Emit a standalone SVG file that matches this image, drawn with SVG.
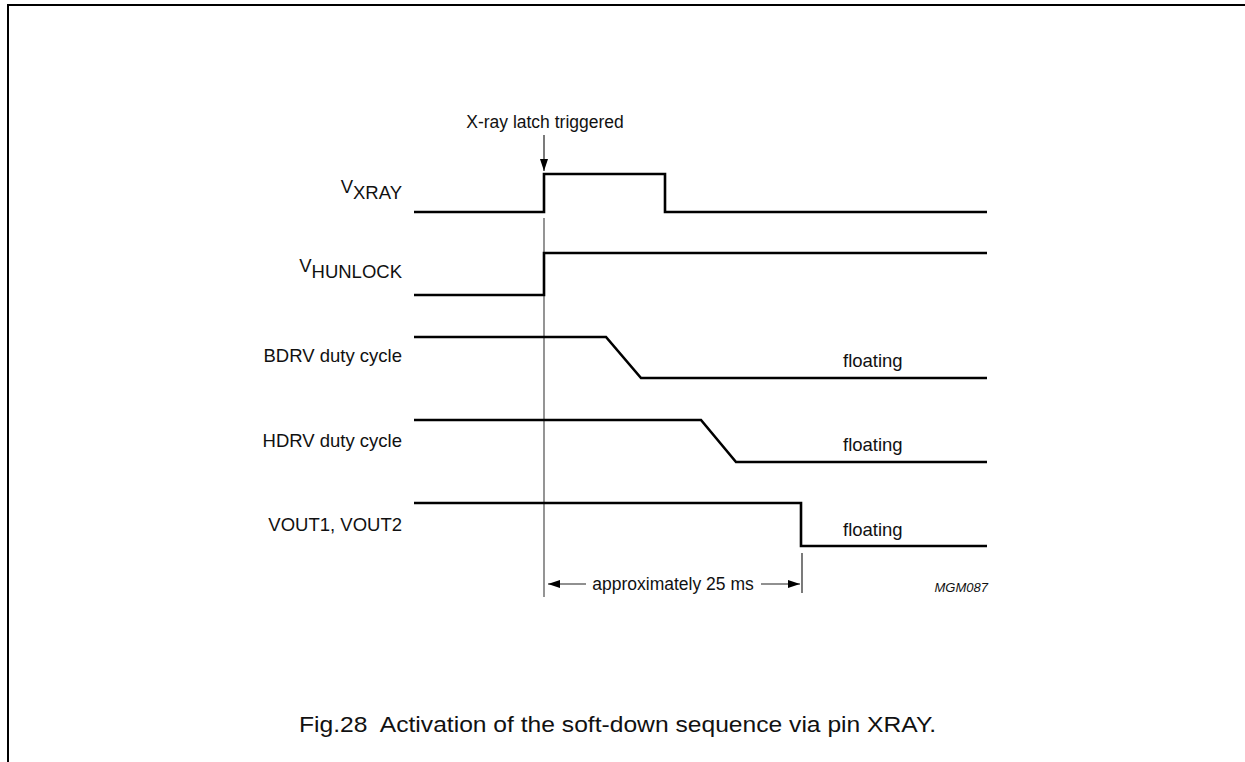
<svg xmlns="http://www.w3.org/2000/svg" width="1245" height="762" viewBox="0 0 1245 762">
<style>
.wave{fill:none;stroke:#000;stroke-width:2.6;stroke-linejoin:miter}
.guide{fill:none;stroke:#7a7a7a;stroke-width:1.6}
.thin{fill:none;stroke:#222;stroke-width:1.2}
.lbl{font-family:"Liberation Sans",Arial,sans-serif;font-size:17.5px;fill:#111}
.side{font-family:"Liberation Sans",Arial,sans-serif;font-size:18.5px;fill:#111}
.cap{font-family:"Liberation Sans",Arial,sans-serif;font-size:22px;fill:#111;white-space:pre}
.code{font-family:"Liberation Sans",Arial,sans-serif;font-size:13px;font-style:italic;fill:#111}
</style>
<defs>
<marker id="ah" viewBox="0 0 12 8" refX="12" refY="4" markerWidth="12" markerHeight="8" markerUnits="userSpaceOnUse" orient="auto">
<path d="M0,0 L12,4 L0,8 Z" fill="#000"/>
</marker>
</defs>
<g id="frame">
<path d="M8,762 V5 H1245" fill="none" stroke="#000" stroke-width="2"/>
</g>
<g id="connectors">
<line class="guide" x1="544" y1="218" x2="544" y2="597"/>
<line class="thin" x1="544" y1="135" x2="544" y2="171" marker-end="url(#ah)" stroke="#555"/>
<line class="thin" x1="802" y1="553" x2="802" y2="593"/>
<line class="thin" x1="586" y1="584" x2="548" y2="584" marker-end="url(#ah)"/>
<line class="thin" x1="761" y1="584" x2="800" y2="584" marker-end="url(#ah)"/>
</g>
<g id="vxray">
<path class="wave" d="M414,212 H544 V174 H665 V212 H987"/>
<text class="side" x="402" y="193" text-anchor="end">V<tspan dy="6">XRAY</tspan></text>
</g>
<g id="vhunlock">
<path class="wave" d="M414,295 H544 V253 H987"/>
<text class="side" x="402" y="272" text-anchor="end">V<tspan dy="6">HUNLOCK</tspan></text>
</g>
<g id="bdrv">
<path class="wave" d="M414,337 H606 L641,378 H987"/>
<text class="side" x="402" y="362" text-anchor="end">BDRV duty cycle</text>
<text class="side" x="843" y="367">floating</text>
</g>
<g id="hdrv">
<path class="wave" d="M414,420 H701 L736,462 H987"/>
<text class="side" x="402" y="447" text-anchor="end">HDRV duty cycle</text>
<text class="side" x="843" y="451">floating</text>
</g>
<g id="vout">
<path class="wave" d="M414,503 H801 V546 H987"/>
<text class="side" x="402" y="531" text-anchor="end">VOUT1, VOUT2</text>
<text class="side" x="843" y="536">floating</text>
</g>
<g id="labels">
<text class="lbl" x="545" y="128" text-anchor="middle">X-ray latch triggered</text>
<text class="lbl" x="673" y="590" text-anchor="middle">approximately 25 ms</text>
<text class="code" x="988" y="592" text-anchor="end">MGM087</text>
<text class="cap" x="299" y="732" textLength="637" lengthAdjust="spacingAndGlyphs">Fig.28  Activation of the soft-down sequence via pin XRAY.</text>
</g>
</svg>
